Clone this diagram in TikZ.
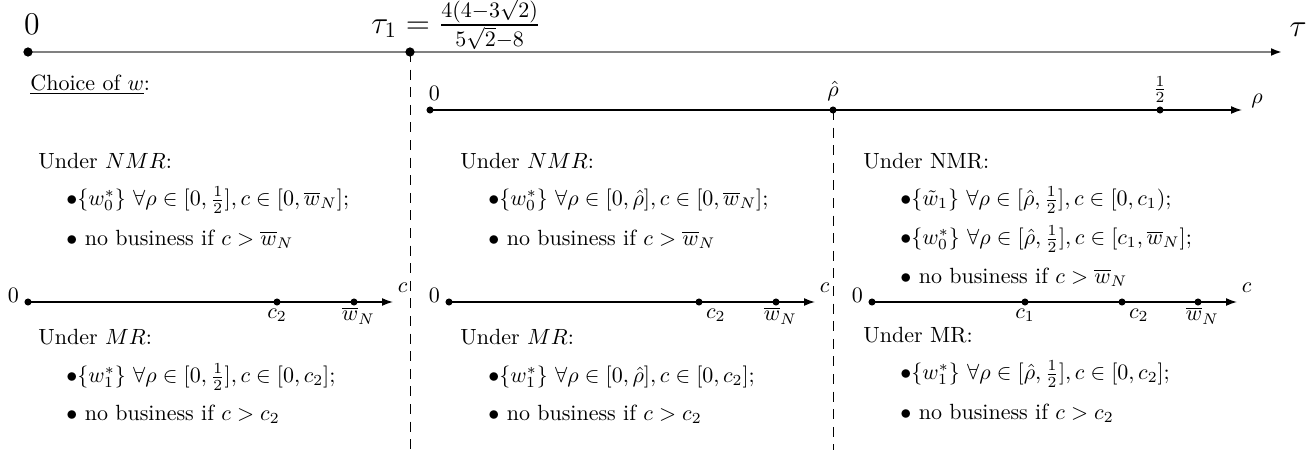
\documentclass[tikz,border=0pt]{standalone}
\usepackage{amsmath,amssymb}
\usetikzlibrary{positioning,arrows.meta}
\begin{document}
\begin{tikzpicture}[
        x=0.4545pt, y=-0.4545pt,
        dot/.style={circle, fill, inner sep=0pt, minimum size=3.2pt},
        bigdot/.style={circle, fill, inner sep=0pt, minimum size=4.2pt},
        txt/.style={anchor=west, inner sep=0pt},
        axis/.style={semithick, -{Latex[length=5pt, width=3.6pt]}},
        sep/.style={thin, dash pattern=on 4.5pt off 3.5pt},
        lbl/.style={inner sep=1pt}
    ]
        \useasboundingbox (0,0) rectangle (1314,450);

        % time axis tau
        \coordinate (t0) at (28,52);
        \coordinate (t1) at (410,52);
        \coordinate (tend) at (1282,52);
        \draw[gray, line width=0.9pt, -{Latex[length=5pt, width=3.6pt, black]}] (t0) -- (tend);
        \node[bigdot] at (t0) {};
        \node[bigdot] at (t1) {};
        \node[font=\Large] (zero) at (32,24) {0};
        \node[font=\Large, anchor=base west, inner sep=0pt] (tauone) at (371,33) {$\tau_1=\frac{4(4-3\sqrt{2})}{5\sqrt{2}-8}$};
        \node[font=\Large] (tau) at (1298,30) {$\tau$};

        % dashed separators
        \coordinate (s1) at (410,450);
        \coordinate (s2top) at (833,110);
        \coordinate (s2) at (833,450);
        \draw[sep] (t1) -- (s1);
        \draw[sep] (s2top) -- (s2);

        \node[txt] (choice) at (30,85) {\underline{Choice of $w$}:};

        % rho axis
        \coordinate (r0) at (430,110);
        \coordinate (rhat) at (833,110);
        \coordinate (rhalf) at (1160,110);
        \coordinate (rend) at (1242,110);
        \draw[axis] (r0) -- (rend);
        \foreach \p in {r0, rhat, rhalf} \node[dot] at (\p) {};
        \node[lbl, above=3pt of r0, xshift=2pt] (r0lbl) {0};
        \node[lbl, above=3pt of rhat] (rhatlbl) {$\hat{\rho}$};
        \node[lbl, above=2pt of rhalf] (rhalflbl) {$\frac{1}{2}$};
        \node[lbl, anchor=south west] (rholbl) at ([xshift=3pt]rend) {$\rho$};

        % tau < tau_1
        \node[txt] (nmrA) at (38,161) {Under $NMR$:};
        \node[txt] (nmrA1) at (66,200) {$\bullet\{w_0^*\}\ \forall\rho\in[0,\frac{1}{2}],c\in[0,\overline{w}_N]$;};
        \node[txt] (nmrA2) at (66,239) {$\bullet$ no business if $c>\overline{w}_N$};

        \coordinate (cA0) at (28,302);
        \coordinate (cAtwo) at (277,302);
        \coordinate (cAw) at (354,302);
        \coordinate (cAend) at (393,302);
        \draw[axis] (cA0) -- (cAend);
        \foreach \p in {cA0, cAtwo, cAw} \node[dot] at (\p) {};
        \node[anchor=base east, inner sep=0pt] (cA0lbl) at ([xshift=-4pt]cA0) {0};
        \node[lbl, anchor=south west] (cAlbl) at ([xshift=1pt, yshift=3pt]cAend) {$c$};
        \node[lbl, below=2pt of cAtwo] (cAtwolbl) {$c_2$};
        \node[lbl, below=1pt of cAw, xshift=2pt] (cAwlbl) {$\overline{w}_N$};

        \node[txt] (mrA) at (38,337) {Under $MR$:};
        \node[txt] (mrA1) at (66,377) {$\bullet\{w_1^*\}\ \forall\rho\in[0,\frac{1}{2}],c\in[0,c_2]$;};
        \node[txt] (mrA2) at (66,414) {$\bullet$ no business if $c>c_2$};

        % rho < rho hat
        \node[txt] (nmrB) at (460,161) {Under $NMR$:};
        \node[txt] (nmrB1) at (488,200) {$\bullet\{w_0^*\}\ \forall\rho\in[0,\hat{\rho}],c\in[0,\overline{w}_N]$;};
        \node[txt] (nmrB2) at (488,239) {$\bullet$ no business if $c>\overline{w}_N$};

        \coordinate (cB0) at (449,302);
        \coordinate (cBtwo) at (699,302);
        \coordinate (cBw) at (776,302);
        \coordinate (cBend) at (815,302);
        \draw[axis] (cB0) -- (cBend);
        \foreach \p in {cB0, cBtwo, cBw} \node[dot] at (\p) {};
        \node[anchor=base east, inner sep=0pt] (cB0lbl) at ([xshift=-4pt]cB0) {0};
        \node[lbl, anchor=south west] (cBlbl) at ([xshift=1pt, yshift=3pt]cBend) {$c$};
        \node[lbl, below right=2pt and 2pt of cBtwo] (cBtwolbl) {$c_2$};
        \node[lbl, below=1pt of cBw, xshift=2pt] (cBwlbl) {$\overline{w}_N$};

        \node[txt] (mrB) at (460,337) {Under $MR$:};
        \node[txt] (mrB1) at (488,377) {$\bullet\{w_1^*\}\ \forall\rho\in[0,\hat{\rho}],c\in[0,c_2]$;};
        \node[txt] (mrB2) at (488,414) {$\bullet$ no business if $c>c_2$};

        % rho > rho hat
        \node[txt] (nmrC) at (863,161) {Under NMR:};
        \node[txt] (nmrC1) at (900,200) {$\bullet\{\tilde{w}_1\}\ \forall\rho\in[\hat{\rho},\frac{1}{2}],c\in[0,c_1)$;};
        \node[txt] (nmrC2) at (900,239) {$\bullet\{w_0^*\}\ \forall\rho\in[\hat{\rho},\frac{1}{2}],c\in[c_1,\overline{w}_N]$;};
        \node[txt] (nmrC3) at (900,277) {$\bullet$ no business if $c>\overline{w}_N$};

        \coordinate (cC0) at (872,302);
        \coordinate (cCone) at (1025,302);
        \coordinate (cCtwo) at (1122,302);
        \coordinate (cCw) at (1198,302);
        \coordinate (cCend) at (1237,302);
        \draw[axis] (cC0) -- (cCend);
        \foreach \p in {cC0, cCone, cCtwo, cCw} \node[dot] at (\p) {};
        \node[anchor=base east, inner sep=0pt] (cC0lbl) at ([xshift=-4pt]cC0) {0};
        \node[lbl, anchor=south west] (cClbl) at ([xshift=1pt, yshift=3pt]cCend) {$c$};
        \node[lbl, below=2pt of cCone] (cConelbl) {$c_1$};
        \node[lbl, below right=2pt and 2pt of cCtwo] (cCtwolbl) {$c_2$};
        \node[lbl, below=1pt of cCw, xshift=2pt] (cCwlbl) {$\overline{w}_N$};

        \node[txt] (mrC) at (863,335) {Under MR:};
        \node[txt] (mrC1) at (900,374) {$\bullet\{w_1^*\}\ \forall\rho\in[\hat{\rho},\frac{1}{2}],c\in[0,c_2]$;};
        \node[txt] (mrC2) at (900,413) {$\bullet$ no business if $c>c_2$};
    \end{tikzpicture}
\end{document}
